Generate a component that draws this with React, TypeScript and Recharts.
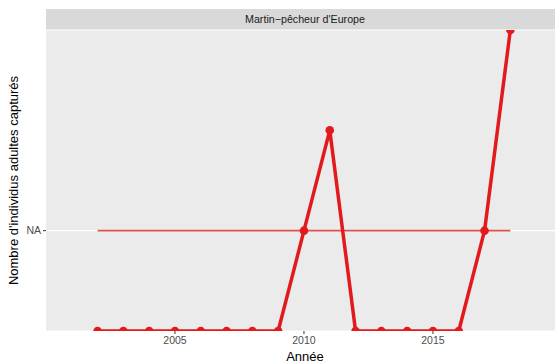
import React from "react";
import {
  ComposedChart,
  Line,
  XAxis,
  YAxis,
  CartesianGrid,
} from "recharts";

const years = [2002, 2003, 2004, 2005, 2006, 2007, 2008, 2009, 2010, 2011, 2012, 2013, 2014, 2015, 2016, 2017, 2018];
const counts = [0, 0, 0, 0, 0, 0, 0, 0, 1, 2, 0, 0, 0, 0, 0, 1, 3];
const refYears = [2002, 2018];
const refValues = [1, 1];
const xMajorTicks = [2005, 2010, 2015];
const xMinorTicks = [2002.5, 2007.5, 2012.5, 2017.5];
const yTicks = [1];
const yTickLabels = ["NA"];
const title = "Martin\u2212pêcheur d'Europe";

const data = years.map((y, i) => ({ year: y, value: counts[i] }));
const refData = refYears.map((y, i) => ({ year: y, ref: refValues[i] }));

const FONT = "'Liberation Sans', Arial, Helvetica, sans-serif";
const RED = "#E31A1C";

const VIEW_W = 555;
const W = 564;
const H = 364;
const M = { top: 30, right: 0, bottom: 0, left: 0 };

const genFor = (vals: number[]) => (props: any) => {
  const xAxis = props.xAxis;
  if (!xAxis || typeof xAxis.scale !== "function") return [];
  return vals.map((v) => xAxis.scale(v));
};

export default function App() {
  return (
    <div
      style={{
        position: "absolute",
        left: 0,
        top: 0,
        width: VIEW_W,
        height: H,
        overflow: "hidden",
        fontFamily: FONT,
      }}
    >
      <div
        style={{
          position: "absolute",
          left: 46,
          top: 9,
          width: W - 46,
          height: 21,
          background: "#D9D9D9",
          color: "#1A1A1A",
          fontSize: 10.7,
          lineHeight: "21px",
          textAlign: "center",
          fontFamily: FONT,
        }}
      >
        {title}
      </div>
      <ComposedChart width={W} height={H} margin={M} data={data}>
        <CartesianGrid
          fill="#EBEBEB"
          stroke="#FFFFFF"
          strokeWidth={0.55}
          horizontal={false}
          verticalCoordinatesGenerator={genFor(xMinorTicks)}
        />
        <CartesianGrid
          stroke="#FFFFFF"
          strokeWidth={1.1}
          fill="none"
          verticalCoordinatesGenerator={genFor(xMajorTicks)}
        />
        <XAxis
          dataKey="year"
          type="number"
          domain={[2000, 2020.08]}
          ticks={xMajorTicks}
          allowDataOverflow
          height={33}
          tickSize={3}
          tickMargin={3}
          axisLine={false}
          tickLine={{ stroke: "#333333", strokeWidth: 1 }}
          tick={{ fill: "#4D4D4D", fontSize: 10.5, fontFamily: FONT }}
          label={{
            content: (p: any) => {
              const vb = p.viewBox || {};
              return (
                <text
                  x={vb.x + vb.width / 2}
                  y={vb.y + 30}
                  textAnchor="middle"
                  fontSize={13}
                  fontFamily={FONT}
                  fill="#000000"
                >
                  Année
                </text>
              );
            },
          }}
        />
        <YAxis
          type="number"
          domain={[0, 3]}
          ticks={yTicks}
          allowDataOverflow
          width={46}
          tickSize={3}
          tickMargin={2}
          axisLine={false}
          tickLine={{ stroke: "#333333", strokeWidth: 1 }}
          tickFormatter={(v: number) => yTickLabels[yTicks.indexOf(v)] ?? ""}
          tick={{ fill: "#4D4D4D", fontSize: 10.5, fontFamily: FONT }}
          label={{
            content: (p: any) => {
              const vb = p.viewBox || {};
              const cx = vb.x + 18;
              const cy = vb.y + vb.height / 2;
              return (
                <text
                  x={cx}
                  y={cy}
                  transform={`rotate(-90 ${cx} ${cy})`}
                  textAnchor="middle"
                  fontSize={13}
                  fontFamily={FONT}
                  fill="#000000"
                >
                  Nombre d'individus adultes capturés
                </text>
              );
            },
          }}
        />
        <Line
          data={refData}
          dataKey="ref"
          stroke="#E05252"
          strokeWidth={1.8}
          dot={false}
          activeDot={false}
          isAnimationActive={false}
        />
        <Line
          dataKey="value"
          stroke={RED}
          strokeWidth={3.5}
          strokeLinejoin="round"
          dot={{ r: 4.3, fill: RED, stroke: RED, strokeWidth: 0 }}
          activeDot={false}
          isAnimationActive={false}
        />
      </ComposedChart>
    </div>
  );
}
